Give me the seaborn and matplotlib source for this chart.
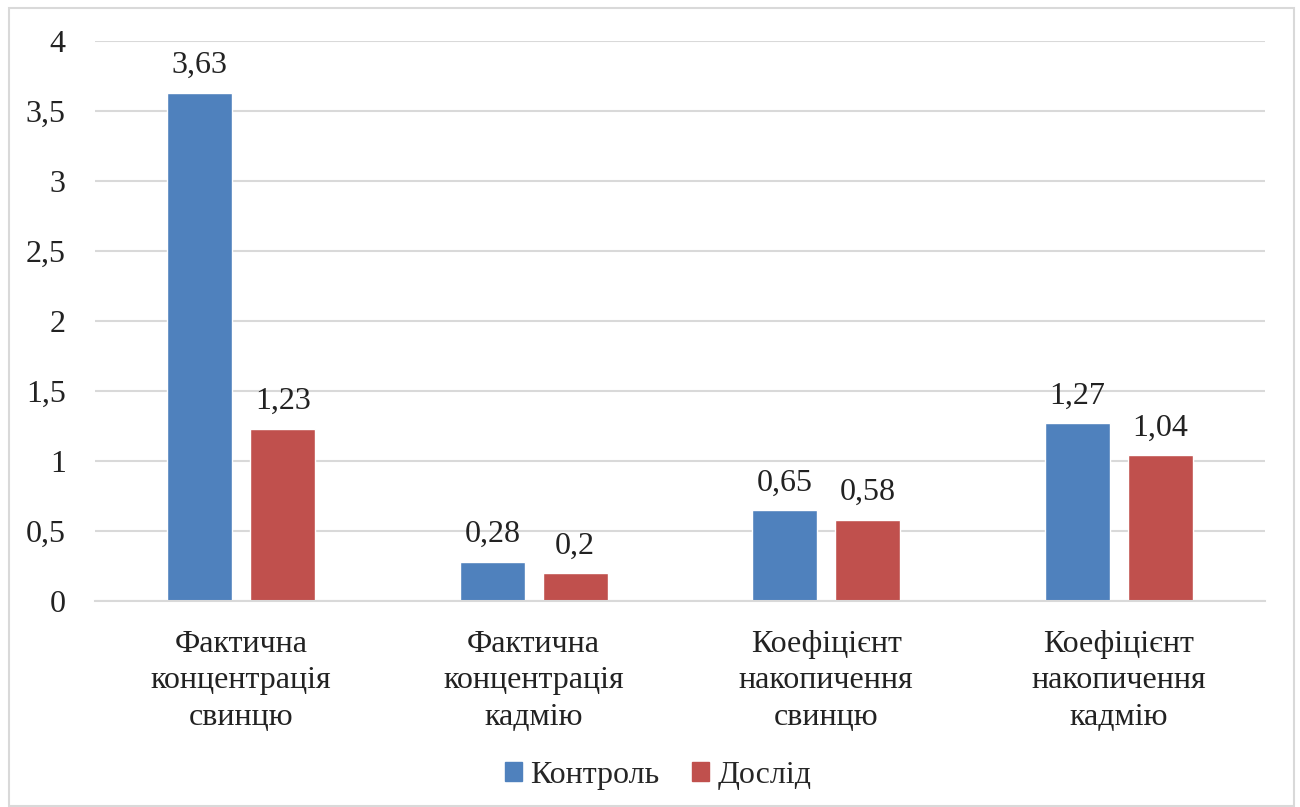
import matplotlib
matplotlib.use("Agg")
import matplotlib.pyplot as plt
import seaborn as sns
import pandas as pd
from matplotlib.patches import Rectangle

categories = ["Фактична\nконцентрація\nсвинцю", "Фактична\nконцентрація\nкадмію",
              "Коефіцієнт\nнакопичення\nсвинцю", "Коефіцієнт\nнакопичення\nкадмію"]
series_names = ["Контроль", "Дослід"]
control = [3.63, 0.28, 0.65, 1.27]
experiment = [1.23, 0.2, 0.58, 1.04]
value_labels_control = ["3,63", "0,28", "0,65", "1,27"]
value_labels_experiment = ["1,23", "0,2", "0,58", "1,04"]
yticks = [0, 0.5, 1, 1.5, 2, 2.5, 3, 3.5, 4]
ytick_labels = ["0", "0,5", "1", "1,5", "2", "2,5", "3", "3,5", "4"]

sns.set_theme(style="white")
plt.rcParams['font.family'] = ['Liberation Serif', 'DejaVu Serif']

df = pd.DataFrame({
    "cat": categories * 2,
    "series": [series_names[0]] * 4 + [series_names[1]] * 4,
    "value": control + experiment,
})

fig = plt.figure(figsize=(13, 8.07), dpi=100)
ax = fig.add_axes([95 / 1300, 1 - 601 / 807, 1170 / 1300, 560 / 807])

sns.barplot(data=df, x="cat", y="value", hue="series", order=categories,
            hue_order=series_names, palette=["#4F81BD", "#C0504D"],
            width=0.567, gap=0.217, saturation=1, ax=ax, legend=False)

ax.set_xlim(-0.5, 3.5)
ax.set_ylim(0, 4)
ax.set_yticks(yticks)
ax.set_yticklabels(ytick_labels, fontsize=23, color="#222222")
ax.tick_params(axis="y", length=0, pad=21)
ax.tick_params(axis="x", length=0, pad=21)
ax.set_xticks(range(len(categories)))
ax.set_xticklabels(categories, fontsize=23, color="#222222", linespacing=1.33)
ax.set_xlabel("")
ax.set_ylabel("")
ax.grid(axis="y", color="#D9D9D9", linewidth=1.5)
ax.set_axisbelow(True)
for s in ["top", "right", "left"]:
    ax.spines[s].set_visible(False)
ax.spines["bottom"].set_color("#D9D9D9")
ax.spines["bottom"].set_linewidth(1.5)

labels_all = [value_labels_control, value_labels_experiment]
for cont, labs in zip(ax.containers, labels_all):
    ax.bar_label(cont, labels=labs, padding=9, fontsize=23, color="#222222")

handles = [Rectangle((0, 0), 1, 1, color="#4F81BD"), Rectangle((0, 0), 1, 1, color="#C0504D")]
fig.legend(handles, series_names, loc="center", bbox_to_anchor=(658 / 1300, 1 - 775 / 807),
           ncol=2, frameon=False, fontsize=23, handlelength=0.55, handleheight=0.55,
           handletextpad=0.25, columnspacing=1.0)

border = Rectangle((9 / 1300, 1 / 807), 1285 / 1300, 798 / 807, transform=fig.transFigure,
                   fill=False, edgecolor="#D9D9D9", linewidth=1.5)
fig.patches.append(border)

fig.savefig("out.png", dpi=100)
